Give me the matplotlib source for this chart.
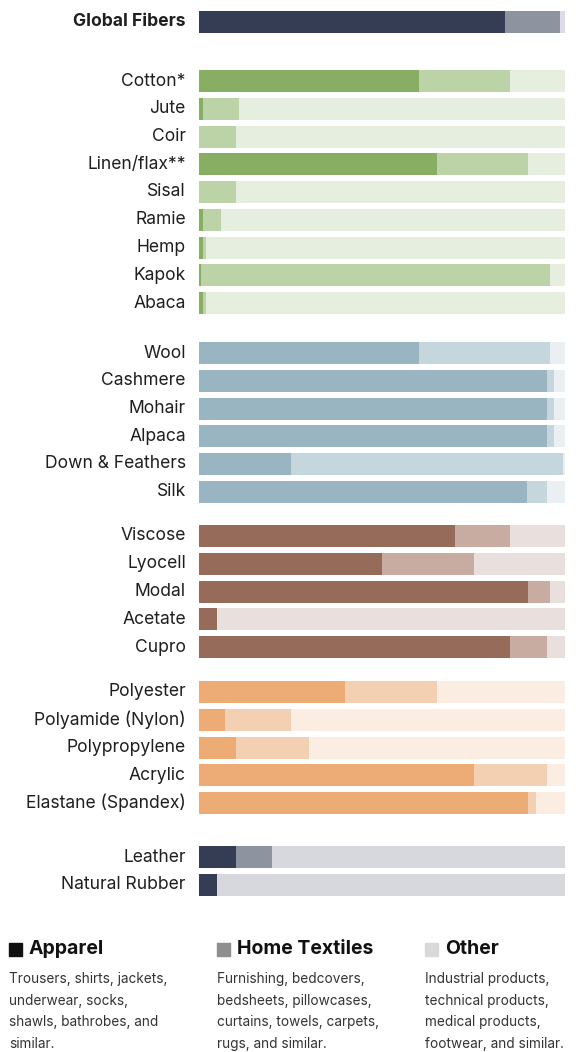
import matplotlib
matplotlib.use('Agg')
import matplotlib.pyplot as plt
import numpy as np

plt.rcParams['font.family'] = ['Inter', 'DejaVu Sans']

# shares in percent: apparel, home textiles, other
fibers_global = ['Global Fibers']
apparel_global = [83.5]
home_global = [15.0]

fibers_plant = ['Cotton*', 'Jute', 'Coir', 'Linen/flax**', 'Sisal', 'Ramie', 'Hemp', 'Kapok', 'Abaca']
apparel_plant = [60, 1, 0, 65, 0, 1, 1, 0.5, 1]
home_plant = [25, 10, 10, 25, 10, 5, 1, 95.5, 1]

fibers_animal = ['Wool', 'Cashmere', 'Mohair', 'Alpaca', 'Down & Feathers', 'Silk']
apparel_animal = [60, 95, 95, 95, 25, 89.5]
home_animal = [36, 2, 2, 2, 74.5, 5.5]

fibers_cellulosic = ['Viscose', 'Lyocell', 'Modal', 'Acetate', 'Cupro']
apparel_cellulosic = [70, 50, 90, 5, 85]
home_cellulosic = [15, 25, 6, 0, 10]

fibers_synthetic = ['Polyester', 'Polyamide (Nylon)', 'Polypropylene', 'Acrylic', 'Elastane (Spandex)']
apparel_synthetic = [40, 7, 10, 75, 90]
home_synthetic = [25, 18, 20, 20, 2]

fibers_other = ['Leather', 'Natural Rubber']
apparel_other = [10, 5]
home_other = [10, 0]

groups = [
    (fibers_global, apparel_global, home_global, ('#353d55', '#8e949f', '#dcdce6'), 22),
    (fibers_plant, apparel_plant, home_plant, ('#87ae62', '#bcd3a8', '#e5eedf'), 81),
    (fibers_animal, apparel_animal, home_animal, ('#98b5c1', '#c5d6dd', '#e9eff2'), 353),
    (fibers_cellulosic, apparel_cellulosic, home_cellulosic, ('#966b59', '#c8aba1', '#e9dfdd'), 536),
    (fibers_synthetic, apparel_synthetic, home_synthetic, ('#edab75', '#f4d0b2', '#fbede2'), 692),
    (fibers_other, apparel_other, home_other, ('#353d55', '#8e949f', '#d6d8de'), 857),
]

W, H = 579, 1052
fig = plt.figure(figsize=(W / 100, H / 100), dpi=100)
ax = fig.add_axes([199 / W, 0, 366 / W, 1])
ax.set_xlim(0, 100)
ax.set_ylim(H, 0)
ax.axis('off')

row_step = 27.75
bar_h = 22
for names, app, home, colors, y0 in groups:
    app = np.array(app, dtype=float)
    home = np.array(home, dtype=float)
    other = 100 - app - home
    y = y0 + np.arange(len(names)) * row_step
    ax.barh(y, app, height=bar_h, color=colors[0], linewidth=0)
    ax.barh(y, home, left=app, height=bar_h, color=colors[1], linewidth=0)
    ax.barh(y, other, left=app + home, height=bar_h, color=colors[2], linewidth=0)
    for yy, name in zip(y, names):
        bold = name == 'Global Fibers'
        ax.text(-3.6, yy, name, ha='right', va='center', fontsize=12.6,
                fontweight='bold' if bold else 'normal', color='#1f1f1f',
                clip_on=False)

# legend
legend_titles = ['Apparel', 'Home Textiles', 'Other']
legend_colors = ['#111111', '#8e8e8e', '#d9d9d9']
legend_texts = [
    'Trousers, shirts, jackets,\nunderwear, socks,\nshawls, bathrobes, and\nsimilar.',
    'Furnishing, bedcovers,\nbedsheets, pillowcases,\ncurtains, towels, carpets,\nrugs, and similar.',
    'Industrial products,\ntechnical products,\nmedical products,\nfootwear, and similar.',
]
col_x = [9, 217, 425]
for x, title, c, desc in zip(col_x, legend_titles, legend_colors, legend_texts):
    fig.patches.append(plt.Rectangle((x / W, 1 - 956 / H), 13 / W, 13 / H,
                                     transform=fig.transFigure, color=c))
    fig.text((x + 20) / W, 1 - 949 / H, title, fontsize=14, fontweight='bold',
             color='#111111', va='center', ha='left')
    fig.text(x / W, 1 - 972 / H, desc, fontsize=9.8, color='#333333',
             va='top', ha='left', linespacing=1.7)

fig.savefig('out.png', dpi=100)
